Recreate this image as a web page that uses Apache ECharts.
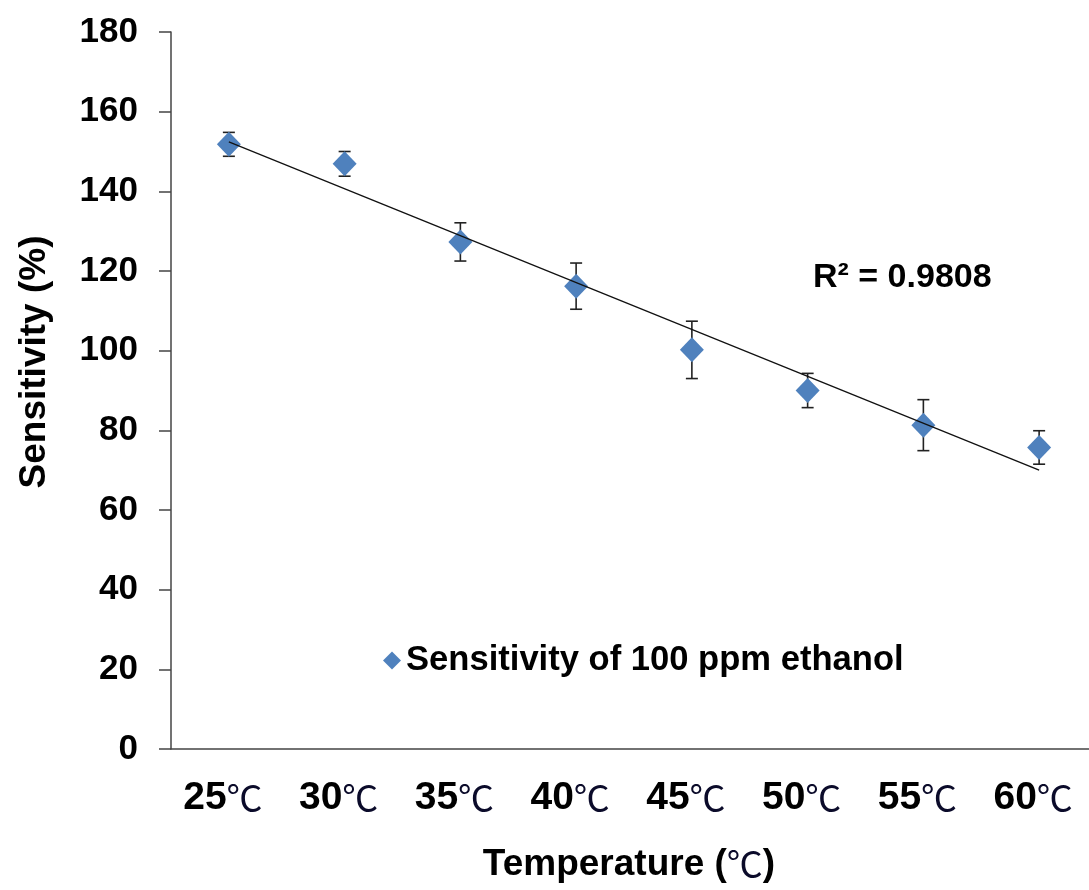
<!DOCTYPE html>
<html>
<head>
<meta charset="utf-8">
<title>Sensitivity vs Temperature</title>
<script src="https://cdn.jsdelivr.net/npm/echarts@6/dist/echarts.min.js"></script>
<style>
  html, body { margin: 0; padding: 0; background: #fff; }
  #chart { width: 1089px; height: 890px; }
</style>
</head>
<body>
<div id="chart"></div>
<script>
// Operating temperatures (x categories)
const temperatures = ['25℃', '30℃', '35℃', '40℃', '45℃', '50℃', '55℃', '60℃'];
// Mean sensitivity to 100 ppm ethanol (%)
const sensitivity = [151.8, 146.9, 127.3, 116.2, 100.2, 90.0, 81.3, 75.7];
// Error bar half-lengths (%)
const errorHalf = [3.0, 3.1, 4.8, 5.8, 7.2, 4.3, 6.4, 4.2];
// Linear trendline end values at the first and last temperature
const trendEnds = [152.4, 70.0];
const rSquared = 'R² = 0.9808';
// Y axis ticks
const yMin = 0, yMax = 180, yStep = 20;

const seriesName = 'Sensitivity of 100 ppm ethanol';
const blue = '#4F81BD';
const axisColor = '#444';
const sansBold = { fontFamily: 'Liberation Sans, Arial, sans-serif', fontWeight: 'bold', color: '#000' };
const degreeStyle = { fontFamily: 'Noto Sans CJK SC, sans-serif', fontWeight: 'normal', color: '#0b0b2a' };

const errorData = sensitivity.map((v, i) => [i, v - errorHalf[i], v + errorHalf[i]]);
const trendData = [[0, trendEnds[0]], [temperatures.length - 1, trendEnds[1]]];

const chart = echarts.init(document.getElementById('chart'), null, { renderer: 'canvas' });

chart.setOption({
  backgroundColor: '#fff',
  animation: false,
  // the category band is wider than the canvas, so the grid runs past the right edge
  grid: { left: 171, top: 32, width: 926, height: 717, containLabel: false, outerBoundsMode: 'none' },
  legend: {
    data: [{ name: seriesName, icon: 'diamond' }],
    left: 378, top: 638,
    itemWidth: 18, itemHeight: 18, itemGap: 4,
    textStyle: Object.assign({ fontSize: 34.6 }, sansBold)
  },
  xAxis: {
    type: 'category',
    data: temperatures,
    boundaryGap: true,
    axisLine: { lineStyle: { color: axisColor, width: 1.5 } },
    axisTick: { alignWithLabel: true, length: 9, lineStyle: { color: axisColor, width: 1.5 } },
    axisLabel: {
      margin: 30,
      padding: [0, 12, 0, 0],
      formatter: v => '{n|' + v.replace('℃', '') + '}{u|℃}',
      rich: {
        n: Object.assign({ fontSize: 39 }, sansBold),
        u: Object.assign({ fontSize: 36 }, degreeStyle)
      }
    },
    name: '{n|Temperature (}{u|℃}{n|)}',
    nameLocation: 'middle',
    nameGap: 97,
    nameTextStyle: {
      padding: [0, 10, 0, 0],
      rich: {
        n: Object.assign({ fontSize: 37 }, sansBold),
        u: Object.assign({ fontSize: 36 }, degreeStyle)
      }
    },
    splitLine: { show: false }
  },
  yAxis: {
    type: 'value',
    min: yMin, max: yMax, interval: yStep,
    axisLine: { show: true, lineStyle: { color: axisColor, width: 1.5 } },
    axisTick: { show: true, length: 12, lineStyle: { color: axisColor, width: 1.5 } },
    axisLabel: Object.assign({ fontSize: 35, margin: 33 }, sansBold),
    splitLine: { show: false }
  },
  graphic: [
    {
      type: 'text',
      left: 813, top: 261,
      style: Object.assign({ text: rSquared, fontSize: 34 }, sansBold, { fill: '#000' })
    },
    {
      // y axis title, rotated to read bottom-to-top
      type: 'text',
      x: 35, y: 362,
      rotation: Math.PI / 2,
      style: Object.assign({ text: 'Sensitivity (%)', fontSize: 37, align: 'center', verticalAlign: 'middle' }, sansBold, { fill: '#000' })
    }
  ],
  series: [
    {
      type: 'custom',
      name: 'error',
      z: 2,
      data: errorData,
      renderItem: function (params, api) {
        const x = api.value(0);
        const lo = api.coord([x, api.value(1)]);
        const hi = api.coord([x, api.value(2)]);
        const cap = 6;
        const style = { stroke: '#222', lineWidth: 1.6 };
        return {
          type: 'group',
          children: [
            { type: 'line', shape: { x1: lo[0], y1: lo[1], x2: hi[0], y2: hi[1] }, style: style },
            { type: 'line', shape: { x1: lo[0] - cap, y1: lo[1], x2: lo[0] + cap, y2: lo[1] }, style: style },
            { type: 'line', shape: { x1: hi[0] - cap, y1: hi[1], x2: hi[0] + cap, y2: hi[1] }, style: style }
          ]
        };
      },
      silent: true
    },
    {
      type: 'scatter',
      name: seriesName,
      z: 3,
      data: sensitivity,
      symbol: 'diamond',
      symbolSize: [24, 25],
      itemStyle: { color: blue, opacity: 1 }
    },
    {
      type: 'line',
      name: 'trend',
      z: 4,
      data: trendData,
      showSymbol: false,
      symbol: 'none',
      lineStyle: { color: '#111', width: 1.3 },
      silent: true
    }
  ]
});
</script>
</body>
</html>
